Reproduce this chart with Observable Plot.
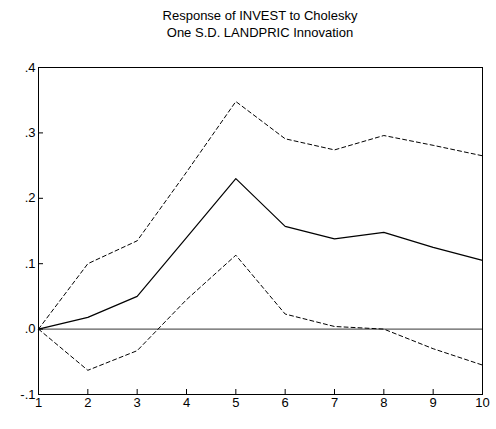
<!DOCTYPE html>
<html>
<head>
<meta charset="utf-8">
<script src="https://cdn.jsdelivr.net/npm/d3@7"></script>
<script src="https://cdn.jsdelivr.net/npm/@observablehq/plot@0.6"></script>
<style>
  body { margin: 0; background: #fff; font-family: "Liberation Sans", Arial, sans-serif; }
  #title { text-align: center; font-size: 13px; line-height: 17px; padding-top: 7px; height: 38px; padding-left: 24px; }
</style>
</head>
<body>
<div id="title">Response of INVEST to Cholesky<br>One S.D. LANDPRIC Innovation</div>
<div id="chart"></div>
<script>
const periods = [1, 2, 3, 4, 5, 6, 7, 8, 9, 10]
const response = [0, 0.018, 0.05, 0.14, 0.23, 0.157, 0.138, 0.148, 0.125, 0.105]
const upper = [0, 0.10, 0.135, 0.24, 0.348, 0.291, 0.274, 0.296, 0.281, 0.265]
const lower = [0, -0.063, -0.033, 0.045, 0.113, 0.023, 0.004, 0.0, -0.03, -0.055]
const yTicks = [-0.1, 0, 0.1, 0.2, 0.3, 0.4]

// EViews style labels: ".1", ".0", "-.1"
const fmt = v => {
  if (Math.abs(v) < 1e-9) return ".0"
  const s = Math.abs(v).toFixed(1).replace(/^0/, "")
  return v < 0 ? "-" + s : s
}

const chart = Plot.plot({
  width: 496,
  height: 384,
  marginLeft: 38,
  marginRight: 14,
  marginTop: 22,
  marginBottom: 35,
  style: { fontSize: "13px", fontFamily: "Liberation Sans, Arial, sans-serif", color: "#000" },
  x: { domain: [1, 10], ticks: periods, tickFormat: d => d, label: null, tickSize: -5, tickPadding: 8 },
  y: { domain: [-0.1, 0.4], ticks: yTicks, tickFormat: fmt, label: null, tickSize: -5, tickPadding: 8 },
  marks: [
    Plot.frame({ stroke: "#000" }),
    Plot.ruleY([0], { stroke: "#000", strokeWidth: 0.8 }),
    Plot.lineY(upper, { x: periods, y: upper, stroke: "#000", strokeDasharray: "4,3", strokeWidth: 1 }),
    Plot.lineY(lower, { x: periods, y: lower, stroke: "#000", strokeDasharray: "4,3", strokeWidth: 1 }),
    Plot.lineY(response, { x: periods, y: response, stroke: "#000", strokeWidth: 1.2 })
  ]
})
d3.select('#chart').append(() => chart)
</script>
</body>
</html>
